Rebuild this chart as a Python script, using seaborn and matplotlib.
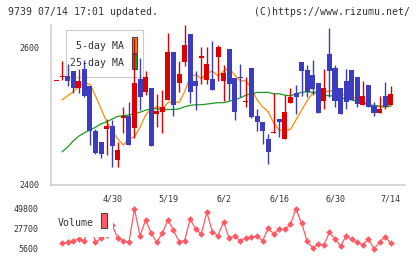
import numpy as np
import matplotlib
matplotlib.use("Agg")
import matplotlib.pyplot as plt
import seaborn as sns
from matplotlib.patches import Rectangle

# ---------------- data ----------------
tick_labels = ["4/30", "5/19", "6/2", "6/16", "6/30", "7/14"]

opens = [2551, 2558, 2559, 2566, 2542, 2569, 2544, 2479, 2463, 2481,
         2486, 2436, 2498, 2501, 2483, 2555, 2535, 2541, 2503, 2507,
         2524, 2594, 2549, 2580, 2621, 2551, 2586, 2553, 2555, 2587,
         2551, 2599, 2556, 2558, 2521, 2570, 2501, 2491, 2467, 2476,
         2496, 2467, 2520, 2534, 2580, 2568, 2561, 2549, 2523, 2591,
         2571, 2541, 2552, 2568, 2558, 2517, 2546, 2515, 2505, 2530, 2516]
closes = [2551, 2559, 2552, 2542, 2552, 2530, 2478, 2447, 2445, 2486,
          2456, 2451, 2500, 2458, 2549, 2529, 2557, 2457, 2508, 2513,
          2594, 2517, 2562, 2604, 2535, 2545, 2587, 2577, 2538, 2601,
          2564, 2547, 2507, 2556, 2522, 2499, 2492, 2478, 2448, 2477,
          2492, 2506, 2528, 2529, 2567, 2535, 2540, 2505, 2541, 2567,
          2523, 2503, 2521, 2524, 2518, 2530, 2514, 2505, 2511, 2513, 2533]
highs = [2551, 2581, 2576, 2566, 2569, 2583, 2544, 2481, 2463, 2496,
         2495, 2463, 2513, 2521, 2614, 2585, 2566, 2541, 2533, 2539,
         2622, 2594, 2581, 2634, 2621, 2566, 2601, 2601, 2610, 2604,
         2575, 2599, 2556, 2577, 2557, 2570, 2511, 2491, 2474, 2534,
         2496, 2531, 2541, 2546, 2580, 2575, 2582, 2549, 2569, 2629,
         2575, 2541, 2569, 2568, 2558, 2552, 2546, 2521, 2530, 2550, 2544]
lows = [2551, 2553, 2544, 2534, 2534, 2529, 2458, 2445, 2439, 2443,
        2426, 2426, 2476, 2458, 2468, 2509, 2531, 2457, 2485, 2476,
        2524, 2500, 2535, 2573, 2520, 2509, 2548, 2548, 2538, 2551,
        2522, 2524, 2494, 2528, 2514, 2498, 2478, 2460, 2430, 2476,
        2470, 2467, 2520, 2503, 2530, 2528, 2531, 2505, 2510, 2529,
        2513, 2503, 2511, 2524, 2513, 2517, 2513, 2501, 2505, 2510, 2516]
ma5 = [np.nan, 2524, 2530, 2536, 2544, 2548, 2547, 2530, 2511, 2492,
       2479, 2467, 2458, 2467, 2470, 2484, 2502, 2511, 2514, 2511,
       2520, 2522, 2520, 2536, 2558, 2561, 2555, 2563, 2566, 2559,
       2566, 2571, 2560, 2552, 2552, 2541, 2524, 2514, 2507, 2490,
       2480, 2479, 2481, 2495, 2509, 2523, 2534, 2538, 2536, 2537,
       2537, 2533, 2530, 2529, 2525, 2520, 2517, 2515, 2514, 2513, 2515]
ma25 = [np.nan, 2448, 2455, 2464, 2471, 2476, 2480, 2484, 2489, 2492,
        2496, 2500, 2501, 2502, 2504, 2506, 2509, 2511, 2511, 2510,
        2510, 2510, 2511, 2514, 2516, 2517, 2517, 2518, 2519, 2520,
        2520, 2522, 2524, 2527, 2531, 2533, 2535, 2535, 2535, 2533,
        2533, 2531, 2530, 2533, 2535, 2536, 2535, 2533, 2531, 2530,
        2530, 2528, 2525, 2524, 2522, 2520, 2517, 2516, 2515, 2515, 2515]
volume = [np.nan, 11900, 13000, 14800, 16650, 14450, 35000, 13000, 17400, 21000,
          32100, 17400, 14800, 13000, 49800, 20000, 37650, 22950, 13000, 22950,
          37650, 26600, 13700, 14800, 38750, 27400, 22200, 46150, 24050, 20300,
          35800, 17400, 20000, 14450, 18100, 18500, 20000, 14800, 28500, 22200,
          27400, 27400, 32900, 49800, 34000, 14450, 6400, 11100, 10000, 24050,
          16300, 8900, 20000, 16300, 13000, 10000, 16650, 5600, 13000, 19200, 11900]
vol_ticks = [5600, 27700, 49800]
price_ticks = [2400, 2600]

# ---------------- style ----------------
sns.set_style("white")
plt.rcParams["font.family"] = ["DejaVu Sans Mono"]
TXT = "#333333"
GRID = "#cccccc"
RED = "#dd0000"
BLUE = "#3c3cbe"
ORANGE = "#ff8c00"
GREEN = "#1a9e1a"
VOLC = "#ff5a64"

W, H = 420, 259
fig = plt.figure(figsize=(W / 100, H / 100), dpi=100)
fig.patch.set_facecolor("white")


def fx(px):
    return px / W


def fy(py):
    return 1 - py / H


L, R = 50.7, 405.3
ax = fig.add_axes([fx(L), fy(184.7), fx(R) - fx(L), fy(25) - fy(184.7)])
axv = fig.add_axes([fx(L), fy(253), fx(R) - fx(L), fy(205) - fy(253)])

n = len(closes)
x = np.arange(n)
o = np.array(opens, float)
c = np.array(closes, float)
hi = np.array(highs, float)
lo = np.array(lows, float)
up = c >= o
cols = np.where(up, RED, BLUE)

xmin, xmax = -1.04, 62.62
ax.set_xlim(xmin, xmax)
ax.set_ylim(2400, 2633.6)

# candles
ax.vlines(x, lo, hi, colors=cols, lw=1.0, zorder=3)
body_b = np.minimum(o, c)
body_h = np.maximum(np.abs(c - o), 1.6)
ax.bar(x, body_h, bottom=body_b, width=0.9, color=cols, linewidth=0, zorder=4)

# moving averages
sns.lineplot(x=x, y=ma5, ax=ax, color=ORANGE, lw=0.9, estimator=None, legend=False, zorder=2)
sns.lineplot(x=x, y=ma25, ax=ax, color=GREEN, lw=0.9, estimator=None, legend=False, zorder=2)

# axes styling
for s in ["top", "right"]:
    ax.spines[s].set_visible(False)
for s in ["left", "bottom"]:
    ax.spines[s].set_color(GRID)
    ax.spines[s].set_linewidth(1.1)
ax.set_yticks(price_ticks)
ax.set_yticklabels([str(v) for v in price_ticks])
ax.tick_params(axis="y", direction="inout", length=5.8, width=1.1, color=GRID,
               labelsize=6, labelcolor=TXT, pad=5.2)
ax.set_xticks(range(10, n, 10))
ax.set_xticklabels(tick_labels)
ax.set_xticks(np.linspace(xmin, xmax, 12), minor=True)
ax.tick_params(axis="x", which="major", length=0, labelsize=6, labelcolor=TXT, pad=7.4)
ax.tick_params(axis="x", which="minor", direction="inout", length=6.5, width=1.1, color=GRID)
ax.set_xlabel("")
ax.set_ylabel("")

# legend box (manual, behind candles)
ax.add_patch(Rectangle((fx(65.7), fy(76.7)), fx(143.3) - fx(65.7), fy(30) - fy(76.7),
                       transform=fig.transFigure, facecolor="none", edgecolor=GRID,
                       lw=0.8, zorder=1, clip_on=False))
fig.text(fx(124.5), fy(46), "5-day MA", ha="right", va="center", fontsize=7.1, color=TXT)
fig.text(fx(124.5), fy(62.5), "25-day MA", ha="right", va="center", fontsize=7.1, color=TXT)
ax.add_patch(Rectangle((fx(131.7), fy(52.7)), fx(137.3) - fx(131.7), fy(37.3) - fy(52.7),
                       transform=fig.transFigure, facecolor=ORANGE, edgecolor="#444444",
                       lw=0.8, zorder=1.5, clip_on=False))
ax.add_patch(Rectangle((fx(131.7), fy(69.3)), fx(137.3) - fx(131.7), fy(54) - fy(69.3),
                       transform=fig.transFigure, facecolor=GREEN, edgecolor="#444444",
                       lw=0.8, zorder=1.5, clip_on=False))

# volume panel
axv.set_xlim(xmin, xmax)
axv.set_ylim(1180, 54220)
sns.lineplot(x=x, y=volume, ax=axv, color=VOLC, lw=0.9, marker="D", markersize=3.4,
             markeredgewidth=0, markerfacecolor=VOLC, estimator=None, legend=False)
for s in axv.spines.values():
    s.set_visible(False)
axv.set_xticks([])
axv.set_yticks(vol_ticks)
axv.set_yticklabels([str(v) for v in vol_ticks])
axv.tick_params(axis="y", length=0, labelsize=6, labelcolor=TXT, pad=9)
axv.set_xlabel("")
axv.set_ylabel("")
axv.add_patch(Rectangle((fx(55), fy(237)), fx(113) - fx(55), fy(203) - fy(237),
                        transform=fig.transFigure, facecolor="white", edgecolor="none",
                        zorder=5, clip_on=False))
axv.text(fx(58), fy(222.5), "Volume", transform=fig.transFigure, ha="left", va="center",
         fontsize=7.1, color=TXT, zorder=6)
axv.add_patch(Rectangle((fx(101), fy(228.3)), fx(107.3) - fx(101), fy(213.3) - fy(228.3),
                        transform=fig.transFigure, facecolor=VOLC, edgecolor="#444444",
                        lw=0.8, zorder=6, clip_on=False))

# header texts
fig.text(fx(8), fy(12), "9739 07/14 17:01 updated.", ha="left", va="center",
         fontsize=7.1, color=TXT)
fig.text(fx(410), fy(12), "(C)https://www.rizumu.net/", ha="right", va="center",
         fontsize=7.1, color=TXT)

fig.savefig("out.png", dpi=100, facecolor="white")
